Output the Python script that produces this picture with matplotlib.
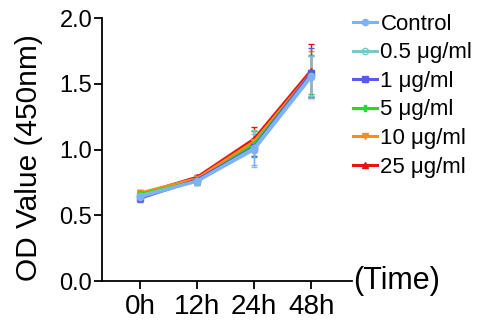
import matplotlib
matplotlib.use('Agg')
import matplotlib.pyplot as plt
from matplotlib.lines import Line2D
import numpy as np

plt.rcParams['font.family'] = ['Liberation Sans', 'DejaVu Sans']

# Data
# ------------------------------------------------------------------------------
times = ['0h', '12h', '24h', '48h']
groups = ['Control', '0.5 μg/ml', '1 μg/ml', '5 μg/ml', '10 μg/ml', '25 μg/ml']
means = [
    [0.64, 0.76, 1.00, 1.55],
    [0.65, 0.76, 1.01, 1.56],
    [0.63, 0.77, 1.02, 1.58],
    [0.66, 0.76, 1.04, 1.57],
    [0.67, 0.78, 1.06, 1.58],
    [0.66, 0.79, 1.08, 1.60],
]
errs = [
    [0.03, 0.03, 0.12, 0.16],
    [0.03, 0.03, 0.14, 0.15],
    [0.03, 0.03, 0.07, 0.19],
    [0.03, 0.03, 0.10, 0.15],
    [0.02, 0.03, 0.08, 0.17],
    [0.02, 0.02, 0.09, 0.20],
]
colors = ['#7fb2f5', '#7cc8c8', '#5a5af0', '#22dd22', '#ff8c1a', '#ee1111']
markers = ['o', 'o', 's', 'P', 'v', '^']

# Plot
# ------------------------------------------------------------------------------
fig = plt.figure(figsize=(4.8, 3.22), dpi=100)
ax = fig.add_axes([0.2125, 0.127, 0.521, 0.817])
x = np.arange(len(times))
handles = []
for i in [5, 4, 3, 2, 1, 0]:
    mfc = 'none' if i == 1 else colors[i]
    ax.errorbar(x, means[i], yerr=errs[i], color=colors[i], marker=markers[i],
                markersize=4.5, mfc=mfc, lw=2.2, elinewidth=1, capsize=2.5, capthick=1)
for i in range(len(groups)):
    mfc = 'none' if i == 1 else colors[i]
    handles.append(Line2D([], [], color=colors[i], marker=markers[i], markersize=4.5,
                          mfc=mfc, lw=2.2))

ax.set_xlim(-0.67, 3.72)
ax.set_ylim(0, 2.0)
ax.set_yticks([0, 0.5, 1.0, 1.5, 2.0])
ax.set_yticklabels(['0.0', '0.5', '1.0', '1.5', '2.0'])
ax.set_xticks(x)
ax.set_xticklabels(times)
ax.spines['top'].set_visible(False)
ax.spines['right'].set_visible(False)
ax.spines['left'].set_linewidth(1.3)
ax.spines['bottom'].set_linewidth(1.3)
ax.tick_params(width=1.3, length=6, direction='out')
ax.tick_params(axis='y', labelsize=17, pad=1)
ax.tick_params(axis='x', labelsize=20, pad=3)
ax.set_ylabel('OD Value (450nm)', fontsize=21.5)
ax.yaxis.set_label_coords(-0.235, 0.47)
ax.text(1.005, 0.0, '(Time)', transform=ax.transAxes, fontsize=22, va='center', ha='left')

ax.legend(handles=handles, labels=groups, loc='upper left', bbox_to_anchor=(0.967, 1.05),
          frameon=False, fontsize=16, handlelength=1.1, handletextpad=0.15,
          labelspacing=0.34, borderaxespad=0)

fig.savefig('out.png', dpi=100)
